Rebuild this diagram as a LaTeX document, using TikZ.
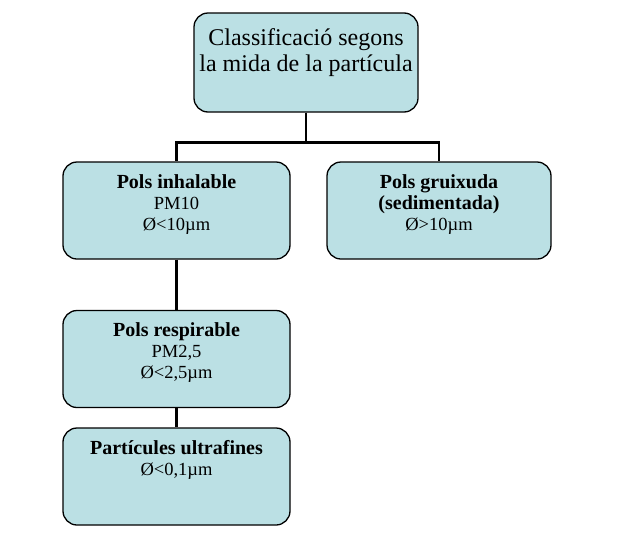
\documentclass[tikz,border=0pt]{standalone}
\usepackage{fontspec}
\setmainfont{Liberation Serif}
\usepackage{xcolor}
\usetikzlibrary{positioning}
\definecolor{boxfill}{RGB}{187,224,228}
\newcommand{\boxtxt}[3]{\parbox[c][#1][t]{220pt}{\vspace*{#2}\centering #3}}
\newcommand{\hd}[1]{{\fontsize{20}{21}\selectfont\bfseries #1}}

\begin{document}
\begin{tikzpicture}[x=1pt,y=-1pt,
  cls/.style={draw,rectangle,rounded corners=14pt,line width=1.3pt,fill=boxfill,
              inner sep=0pt,minimum height=97pt,minimum width=227pt},
  small/.style={font=\fontsize{18.5}{21}\selectfont},
  link/.style={line width=2.4pt}
]
\useasboundingbox (0,0) rectangle (640,544);
% Root
\node[cls,minimum width=224pt,minimum height=99pt,
      font=\fontsize{24}{26}\selectfont] (root) at (306,62.5)
    {\boxtxt{79pt}{6pt}{Classificació segons\\la mida de la partícula}};
% Second level
\node[cls,small] (inh) at (176.5,210.5)
    {\boxtxt{77pt}{2.5pt}{\hd{Pols inhalable}\\PM10\\Ø<10µm}};
\node[cls,small,minimum width=224pt] (grx) at (439,210.5)
    {\boxtxt{77pt}{2.5pt}{\hd{Pols gruixuda}\\\hd{(sedimentada)}\\Ø>10µm}};
% Lower levels
\node[cls,small] (resp) at (176.5,359)
    {\boxtxt{77pt}{2.5pt}{\hd{Pols respirable}\\PM2,5\\Ø<2,5µm}};
\node[cls,small] (ultra) at (176.5,476.5)
    {\boxtxt{77pt}{2.5pt}{\hd{Partícules ultrafines}\\Ø<0,1µm}};
% Connectors
\draw[link] (root.south) -- ++(0,30) -| (inh.north);
\draw[link] (root.south) -- ++(0,30) -| (grx.north);
\draw[link] (inh.south) -- (resp.north);
\draw[link] (resp.south) -- (ultra.north);
\end{tikzpicture}
\end{document}
